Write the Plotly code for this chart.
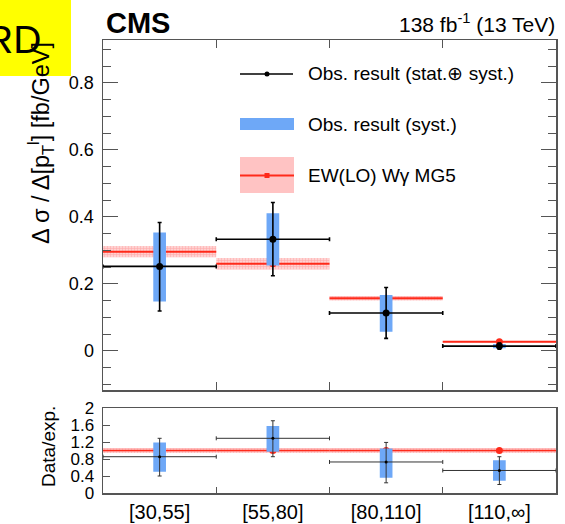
import plotly.graph_objects as go

# ---- data ----
bin_labels = ["[30,55]", "[55,80]", "[80,110]", "[110,∞]"]
bin_centers = [0.5, 1.5, 2.5, 3.5]
bin_halfwidth = [0.5, 0.5, 0.5, 0.5]

obs = [0.252, 0.333, 0.113, 0.014]
obs_tot_up = [0.131, 0.110, 0.076, 0.009]
obs_tot_dn = [0.133, 0.109, 0.076, 0.009]
obs_syst_lo = [0.147, 0.255, 0.057, 0.008]
obs_syst_hi = [0.353, 0.411, 0.167, 0.020]

pred = [0.296, 0.260, 0.157, 0.027]
pred_err = [0.017, 0.017, 0.007, 0.002]

ratio = [0.854, 1.287, 0.730, 0.530]
ratio_tot_up = [0.433, 0.413, 0.460, 0.324]
ratio_tot_dn = [0.454, 0.433, 0.490, 0.330]
ratio_syst_lo = [0.50, 0.97, 0.36, 0.29]
ratio_syst_hi = [1.19, 1.576, 1.05, 0.77]
ratio_pred = [1.0, 1.0, 1.0, 1.0]
ratio_pred_err = [0.06, 0.06, 0.06, 0.06]

W, H = 565, 524
def px(x):
    return x / W
def py(y):
    return 1 - y / H

RED = "#ff2a1a"
BLUE = "#6ea8f7"
BOX_HW = 0.056  # half width of syst boxes (style)
pattern = dict(shape="+", fgcolor="rgba(255,70,70,0.55)", bgcolor="rgba(255,195,195,0.75)", size=3, solidity=0.35)


def seg(centers, hws, vals):
    xs, ys = [], []
    for c, hw, v in zip(centers, hws, vals):
        xs += [c - hw, c + hw, None]
        ys += [v, v, None]
    return xs, ys


def boxes(centers, lo, hi):
    xs, ys = [], []
    for c, l, h in zip(centers, lo, hi):
        xs += [c - BOX_HW, c + BOX_HW, c + BOX_HW, c - BOX_HW, c - BOX_HW, None]
        ys += [l, l, h, h, l, None]
    return xs, ys


def add_panel(xa, ya, pv, pe, sl, sh, ov, oup, odn, line_w, err_w, err_col, mk):
    fig.add_trace(go.Bar(x=bin_centers, y=[2 * e for e in pe], base=[p - e for p, e in zip(pv, pe)],
                         width=1.0, marker=dict(color="rgba(255,180,180,0.7)", line=dict(width=0), pattern=pattern),
                         xaxis=xa, yaxis=ya, showlegend=False, hoverinfo="skip"))
    sx, sy = seg(bin_centers, bin_halfwidth, pv)
    fig.add_trace(go.Scatter(x=sx, y=sy, mode="lines", line=dict(color=RED, width=line_w),
                             xaxis=xa, yaxis=ya, showlegend=False))
    fig.add_trace(go.Scatter(x=bin_centers, y=pv, mode="markers", marker=dict(color=RED, size=7),
                             xaxis=xa, yaxis=ya, showlegend=False))
    bx, by = boxes(bin_centers, sl, sh)
    fig.add_trace(go.Scatter(x=bx, y=by, mode="lines", fill="toself", fillcolor=BLUE, line=dict(width=0, color=BLUE),
                             xaxis=xa, yaxis=ya, showlegend=False))
    fig.add_trace(go.Scatter(x=bin_centers, y=ov, mode="markers",
                             marker=dict(color="black", size=mk),
                             error_y=dict(type="data", symmetric=False, array=oup, arrayminus=odn,
                                          color=err_col, thickness=err_w, width=2),
                             error_x=dict(type="data", array=bin_halfwidth, color=err_col, thickness=err_w, width=2),
                             xaxis=xa, yaxis=ya, showlegend=False))


fig = go.Figure()
add_panel("x", "y", pred, pred_err, obs_syst_lo, obs_syst_hi, obs, obs_tot_up, obs_tot_dn, 2, 1.6, "black", 7)
add_panel("x2", "y2", ratio_pred, ratio_pred_err, ratio_syst_lo, ratio_syst_hi, ratio, ratio_tot_up, ratio_tot_dn,
          1.5, 1, "#333", 3)

FRAME = "#555555"
xdom = [px(103), px(556)]
fig.update_layout(
    width=W, height=H, margin=dict(l=0, r=0, t=0, b=0, pad=0), autosize=False,
    paper_bgcolor="white", plot_bgcolor="white", barmode="overlay", showlegend=False,
    font=dict(family="Liberation Sans, Arial, sans-serif", color="black"),
    xaxis=dict(domain=xdom, anchor="y", range=[0, 4], showline=True, linecolor=FRAME, linewidth=1.5,
               mirror="ticks", tickvals=[1, 2, 3], ticks="inside", ticklen=8, tickcolor=FRAME,
               showticklabels=False, showgrid=False, zeroline=False, automargin=False),
    yaxis=dict(domain=[py(390), py(40)], anchor="x", range=[-0.117, 0.928], showline=True, linecolor=FRAME,
               linewidth=1.5, mirror="ticks", tickvals=[0, 0.2, 0.4, 0.6, 0.8], ticktext=["0", "0.2", "0.4", "0.6", "0.8"],
               ticks="inside", ticklen=15, tickcolor=FRAME, tickfont=dict(size=18), ticklabelstandoff=4,
               minor=dict(dtick=0.05, tick0=0, ticks="inside", ticklen=8, tickcolor=FRAME, showgrid=False),
               showgrid=False, zeroline=False, automargin=False),
    xaxis2=dict(domain=xdom, anchor="y2", range=[0, 4], showline=True, linecolor=FRAME, linewidth=1.5,
                mirror=True, tickvals=bin_centers, ticktext=bin_labels, ticks="", tickfont=dict(size=20),
                minor=dict(tickvals=[1, 2, 3], ticks="inside", ticklen=6, tickcolor=FRAME, showgrid=False),
                showgrid=False, zeroline=False, automargin=False),
    yaxis2=dict(domain=[py(493), py(408)], anchor="x2", range=[0, 2], showline=True, linecolor=FRAME,
                linewidth=1.5, mirror=True, tickvals=[0, 0.4, 0.8, 1.2, 1.6, 2],
                ticktext=["0", "0.4", "0.8", "1.2", "1.6", "2"], ticks="inside", ticklen=7, tickcolor=FRAME,
                tickfont=dict(size=17), ticklabelstandoff=4, showgrid=False, zeroline=False, automargin=False),
)

annotations = [
    dict(text="<b>CMS</b>", x=px(104), y=py(23), xanchor="left", yanchor="middle", font=dict(size=29)),
    dict(text="138 fb<sup>-1</sup> (13 TeV)", x=px(557), y=py(23), xanchor="right", yanchor="middle", font=dict(size=21)),
    dict(text="Δ σ / Δ[p<sub>T</sub><sup>l</sup>] [fb/GeV]", x=px(40), y=py(40), xanchor="center", yanchor="top",
         textangle=-90, font=dict(size=23.5)),
    dict(text="Data/exp.", x=px(48), y=py(447), xanchor="center", yanchor="middle", textangle=-90, font=dict(size=19)),
    dict(text="Obs. result (stat.⊕ syst.)", x=px(306), y=py(74), xanchor="left", yanchor="middle", font=dict(size=19)),
    dict(text="Obs. result (syst.)", x=px(306), y=py(124), xanchor="left", yanchor="middle", font=dict(size=19)),
    dict(text="EW(LO) Wγ MG5", x=px(306), y=py(175), xanchor="left", yanchor="middle", font=dict(size=19)),
    dict(text="RD", x=px(43), y=py(39), xanchor="right", yanchor="middle", font=dict(size=39, family="Liberation Sans")),
]
for a in annotations:
    a.update(xref="paper", yref="paper", showarrow=False)
fig.update_layout(annotations=annotations)

shapes = [
    dict(type="line", x0=px(240), x1=px(293), y0=py(74), y1=py(74), line=dict(color="black", width=1.6)),
    dict(type="circle", x0=px(264.5), x1=px(269.5), y0=py(76.5), y1=py(71.5), fillcolor="black", line=dict(width=0)),
    dict(type="rect", x0=px(240), x1=px(294), y0=py(130), y1=py(118), fillcolor=BLUE, line=dict(width=0)),
    dict(type="rect", x0=px(240), x1=px(294), y0=py(193), y1=py(157), fillcolor="rgba(255,175,175,0.75)", line=dict(width=0)),
    dict(type="line", x0=px(240), x1=px(294), y0=py(175.5), y1=py(175.5), line=dict(color=RED, width=2)),
    dict(type="rect", x0=px(264.5), x1=px(269.5), y0=py(178), y1=py(173), fillcolor=RED, line=dict(width=0)),
    dict(type="rect", x0=0, x1=px(71), y0=py(76), y1=1, fillcolor="#ffff00", line=dict(width=0), layer="above"),
]
for s in shapes:
    s.update(xref="paper", yref="paper")
fig.update_layout(shapes=shapes)

fig.write_html("out.html", config={"displayModeBar": False, "staticPlot": True},
               post_script="document.body.style.margin='0';")
